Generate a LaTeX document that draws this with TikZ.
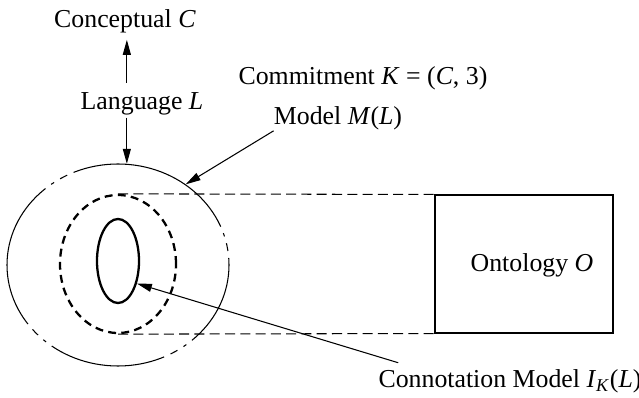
\documentclass[tikz,border=0pt]{standalone}
\usepackage{fontspec}
\setmainfont{Liberation Serif}
\usetikzlibrary{arrows.meta,shapes.geometric}
\newlength{\pxu}
\setlength{\pxu}{0.02cm}
\begin{document}
\begin{tikzpicture}[x=0.02cm, y=-0.02cm, every node/.style={font=\fontsize{14.7}{17}\selectfont, inner sep=0pt}, >={Triangle[length=3mm,width=1.6mm]}, lbl/.style={anchor=base}, ring/.style={draw, ellipse, line width=0.6pt}, thickring/.style={draw, ellipse, line width=1.3pt}, thin/.style={line width=0.6pt}]
	\useasboundingbox (0,0) rectangle (639,398);
	\node[lbl] (concept) at (125,28) {Conceptual \textit{C}};
	\node[lbl] (lang) at (142,110) {Language \textit{L}};
	\node[lbl] (commit) at (363,85) {Commitment \textit{K} = (\textit{C}, 3)};
	\node[lbl] (mlabel) at (338,125) {Model \textit{M}(\textit{L})};
	\node[ring, minimum width=222\pxu, minimum height=202\pxu, dash pattern=on 53.4pt off 4pt on 4.5pt off 4pt on 2pt off 4pt on 98.2pt off 4pt on 4.5pt off 4pt on 2pt off 4pt on 86.8pt off 4pt on 4.5pt off 4pt on 2pt off 4pt on 66.9pt off 4pt on 4.5pt off 4pt on 2pt off 4pt, dash phase=49.4pt] (model) at (118,265) {};
	\node[thickring, dash pattern=on 4.5pt off 3pt, minimum width=116\pxu, minimum height=138\pxu] (mid) at (118,264) {};
	\node[thickring, minimum width=42\pxu, minimum height=84\pxu] (inner) at (118,261) {};
	\node[draw, thin, minimum width=178\pxu, minimum height=138\pxu] (onto) at (524,264) {};
	\node[lbl] (ontolabel) at (532,272) {Ontology \textit{O}};
	\node[lbl] (conn) at (510,388) {Connotation Model \textit{I}\textsubscript{\textit{K}}(\textit{L})};
	\draw[thin, dash pattern=on 5.7pt off 3pt] (mid.north) -- (onto.north west);
	\draw[thin, dash pattern=on 5.7pt off 3pt] (mid.south) -- (onto.south west);
	\draw[thin, ->, shorten <=5.7pt, shorten >=3.4pt] (model.85 |- lang.north) -- (model.85 |- concept.south);
	\draw[thin, ->, shorten <=1pt] (model.85 |- lang.south) -- (model.85);
	\draw[thin, ->] (mlabel.south west) -- (model.50);
	\draw[thin, ->] ([shift={(20,-7)}]conn.north west) -- (inner.-50);
\end{tikzpicture}
\end{document}
